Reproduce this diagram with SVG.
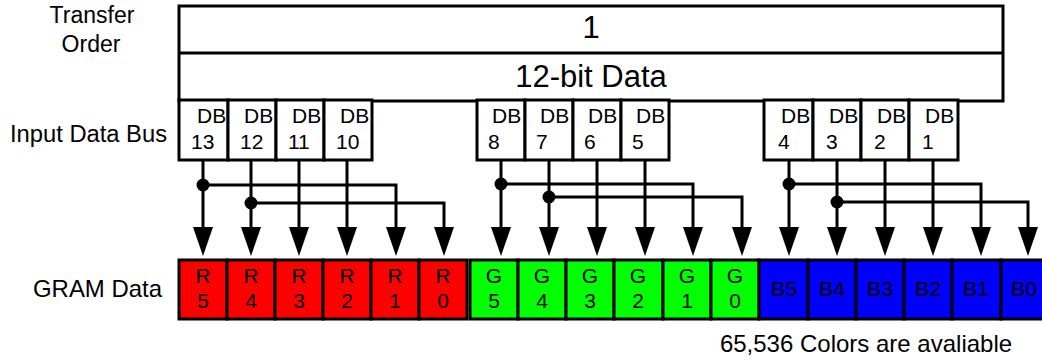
<svg xmlns="http://www.w3.org/2000/svg" width="1042" height="362" viewBox="0 0 1042 362">
<style>
text{font-family:"Liberation Sans",Arial,sans-serif;fill:#000}
.box{fill:#fff;stroke:#000;stroke-width:3}
.r{fill:#ff0000;stroke:#000;stroke-width:3}
.g{fill:#00ff00;stroke:#000;stroke-width:3}
.b{fill:#0000ff;stroke:#000;stroke-width:3}
.lbl{font-size:23px;text-anchor:middle}
.db{font-size:21px}
.gl{font-size:21px;text-anchor:middle}
.w{fill:none;stroke:#000;stroke-width:3}
</style>
<defs>
<marker id="ah" markerWidth="20" markerHeight="29" refX="10" refY="0" orient="0" markerUnits="userSpaceOnUse" viewBox="0 0 20 29">
<path d="M0 0 L20 0 L10 29 Z" fill="#000"/>
</marker>
</defs>
<g id="labels">
<text class="lbl" x="92" y="23">Transfer</text>
<text class="lbl" x="91" y="52">Order</text>
<text x="10" y="142" font-size="23" textLength="157" lengthAdjust="spacingAndGlyphs">Input Data Bus</text>
<text x="33" y="297" font-size="24" textLength="129" lengthAdjust="spacingAndGlyphs">GRAM Data</text>
<text x="866" y="352" font-size="24" text-anchor="middle">65,536 Colors are avaliable</text>
</g>
<g id="transfer">
<rect class="box" x="179" y="6" width="824" height="95"/>
<line x1="179" y1="53" x2="1003" y2="53" stroke="#000" stroke-width="3"/>
<text x="591" y="38" font-size="31" text-anchor="middle">1</text>
<text x="591" y="87" font-size="31" text-anchor="middle">12-bit Data</text>
</g>
<g id="bus1">
<rect class="box" x="179" y="100" width="49" height="60"/><text class="db" x="197" y="123">DB</text><text class="db" x="191" y="149">13</text>
<rect class="box" x="228" y="100" width="48" height="60"/><text class="db" x="244" y="123">DB</text><text class="db" x="240" y="149">12</text>
<rect class="box" x="276" y="100" width="48" height="60"/><text class="db" x="292" y="123">DB</text><text class="db" x="288" y="149">11</text>
<rect class="box" x="324" y="100" width="48" height="60"/><text class="db" x="340" y="123">DB</text><text class="db" x="336" y="149">10</text>
</g>
<g id="bus2">
<rect class="box" x="477" y="100" width="48" height="60"/><text class="db" x="492" y="123">DB</text><text class="db" x="488" y="149">8</text>
<rect class="box" x="525" y="100" width="48" height="60"/><text class="db" x="540" y="123">DB</text><text class="db" x="536" y="149">7</text>
<rect class="box" x="573" y="100" width="48" height="60"/><text class="db" x="588" y="123">DB</text><text class="db" x="584" y="149">6</text>
<rect class="box" x="621" y="100" width="48" height="60"/><text class="db" x="636" y="123">DB</text><text class="db" x="632" y="149">5</text>
</g>
<g id="bus3">
<rect class="box" x="764" y="100" width="49" height="60"/><text class="db" x="781" y="123">DB</text><text class="db" x="778" y="149">4</text>
<rect class="box" x="813" y="100" width="48" height="60"/><text class="db" x="829" y="123">DB</text><text class="db" x="826" y="149">3</text>
<rect class="box" x="861" y="100" width="48" height="60"/><text class="db" x="877" y="123">DB</text><text class="db" x="874" y="149">2</text>
<rect class="box" x="909" y="100" width="49" height="60"/><text class="db" x="925" y="123">DB</text><text class="db" x="922" y="149">1</text>
</g>
<g id="connectors">
<path class="w" d="M203 160 V227" marker-end="url(#ah)"/>
<path class="w" d="M251 160 V227" marker-end="url(#ah)"/>
<path class="w" d="M299 160 V227" marker-end="url(#ah)"/>
<path class="w" d="M347 160 V227" marker-end="url(#ah)"/>
<path class="w" d="M203 185 H396 V227" marker-end="url(#ah)"/>
<path class="w" d="M251 203 H444 V227" marker-end="url(#ah)"/>
<circle cx="203" cy="185" r="6.5"/>
<circle cx="251" cy="203" r="6.5"/>
<path class="w" d="M501 160 V227" marker-end="url(#ah)"/>
<path class="w" d="M549 160 V227" marker-end="url(#ah)"/>
<path class="w" d="M597 160 V227" marker-end="url(#ah)"/>
<path class="w" d="M645 160 V227" marker-end="url(#ah)"/>
<path class="w" d="M501 184 H693 V227" marker-end="url(#ah)"/>
<path class="w" d="M549 197 H742 V227" marker-end="url(#ah)"/>
<circle cx="501" cy="184" r="6.5"/>
<circle cx="549" cy="197" r="6.5"/>
<path class="w" d="M789 160 V227" marker-end="url(#ah)"/>
<path class="w" d="M837 160 V227" marker-end="url(#ah)"/>
<path class="w" d="M885 160 V227" marker-end="url(#ah)"/>
<path class="w" d="M933 160 V227" marker-end="url(#ah)"/>
<path class="w" d="M789 184 H981 V227" marker-end="url(#ah)"/>
<path class="w" d="M837 202 H1028 V227" marker-end="url(#ah)"/>
<circle cx="789" cy="184" r="6.5"/>
<circle cx="837" cy="202" r="6.5"/>
</g>
<g id="gram-r">
<rect class="r" x="179" y="260" width="48" height="59"/><text class="gl" x="203" y="283">R</text><text class="gl" x="203" y="308">5</text>
<rect class="r" x="227" y="260" width="48" height="59"/><text class="gl" x="251" y="283">R</text><text class="gl" x="251" y="308">4</text>
<rect class="r" x="275" y="260" width="48" height="59"/><text class="gl" x="299" y="283">R</text><text class="gl" x="299" y="308">3</text>
<rect class="r" x="323" y="260" width="48" height="59"/><text class="gl" x="347" y="283">R</text><text class="gl" x="347" y="308">2</text>
<rect class="r" x="371" y="260" width="48" height="59"/><text class="gl" x="395" y="283">R</text><text class="gl" x="395" y="308">1</text>
<rect class="r" x="419" y="260" width="48" height="59"/><text class="gl" x="443" y="283">R</text><text class="gl" x="443" y="308">0</text>
</g>
<g id="gram-g">
<rect class="g" x="470" y="260" width="48" height="59"/><text class="gl" x="494" y="283">G</text><text class="gl" x="494" y="308">5</text>
<rect class="g" x="518" y="260" width="48" height="59"/><text class="gl" x="542" y="283">G</text><text class="gl" x="542" y="308">4</text>
<rect class="g" x="566" y="260" width="48" height="59"/><text class="gl" x="590" y="283">G</text><text class="gl" x="590" y="308">3</text>
<rect class="g" x="614" y="260" width="49" height="59"/><text class="gl" x="638" y="283">G</text><text class="gl" x="638" y="308">2</text>
<rect class="g" x="663" y="260" width="48" height="59"/><text class="gl" x="687" y="283">G</text><text class="gl" x="687" y="308">1</text>
<rect class="g" x="711" y="260" width="48" height="59"/><text class="gl" x="735" y="283">G</text><text class="gl" x="735" y="308">0</text>
</g>
<g id="gram-b">
<rect class="b" x="759" y="260" width="49" height="59"/><text class="gl" x="784" y="296" textLength="26" lengthAdjust="spacingAndGlyphs">B5</text>
<rect class="b" x="808" y="260" width="48" height="59"/><text class="gl" x="832" y="296" textLength="26" lengthAdjust="spacingAndGlyphs">B4</text>
<rect class="b" x="856" y="260" width="48" height="59"/><text class="gl" x="880" y="296" textLength="26" lengthAdjust="spacingAndGlyphs">B3</text>
<rect class="b" x="904" y="260" width="48" height="59"/><text class="gl" x="928" y="296" textLength="26" lengthAdjust="spacingAndGlyphs">B2</text>
<rect class="b" x="952" y="260" width="49" height="59"/><text class="gl" x="976" y="296" textLength="26" lengthAdjust="spacingAndGlyphs">B1</text>
<rect class="b" x="1001" y="260" width="48" height="59"/><text class="gl" x="1024" y="296" textLength="26" lengthAdjust="spacingAndGlyphs">B0</text>
</g>
</svg>
